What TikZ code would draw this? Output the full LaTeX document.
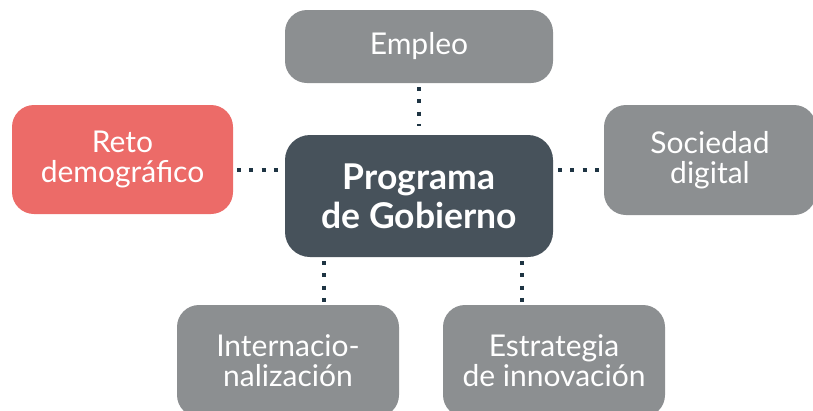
\documentclass[tikz,border=0pt]{standalone}
\usepackage{fontspec}
\setmainfont{Lato}
\definecolor{boxgray}{HTML}{8C8F91}
\definecolor{boxred}{HTML}{EC6B68}
\definecolor{boxdark}{HTML}{47525B}
\definecolor{dotcol}{HTML}{1E3443}
\begin{document}
\begin{tikzpicture}[x=1pt,y=-1pt,
  box/.style={rounded corners=22pt, fill=boxgray, text=white, align=center,
    inner sep=0pt, font=\fontsize{30}{30}\selectfont},
  dotline/.style={draw=dotcol, line width=4pt, dash pattern=on 4pt off 8.2pt}]
\useasboundingbox (0,0) rectangle (813,410);
\clip (0,0) rectangle (813,410);
\node[box, minimum width=268pt, minimum height=73pt] (emp) at (419,46.5) {Empleo};
\node[box, fill=boxred, minimum width=221pt, minimum height=109pt] (reto) at (122.5,159.5) {Reto\\demográfico};
\node[box, fill=boxdark, rounded corners=25pt, minimum width=268pt, minimum height=122pt,
  font=\bfseries\fontsize{35.5}{39}\selectfont] (prog) at (419,196) {Programa\\de Gobierno};
\node[box, minimum width=212pt, minimum height=110pt] (soc) at (710,160) {Sociedad\\digital};
\node[box, minimum width=222pt, minimum height=112pt] (intl) at (288,361) {Internacio-\\nalización};
\node[box, minimum width=222pt, minimum height=112pt] (estr) at (554,361) {Estrategia\\de innovación};
\coordinate (hy) at (0,169.5);
\coordinate (bl) at (324,0);
\coordinate (br) at (522,0);
\draw[dotline, shorten <=4pt, shorten >=9pt] (emp.south) -- (prog.north);
\draw[dotline, shorten <=4pt, shorten >=6pt] (reto.east |- hy) -- (prog.west |- hy);
\draw[dotline, shorten <=5pt, shorten >=5pt] (prog.east |- hy) -- (soc.west |- hy);
\draw[dotline, shorten <=4pt, shorten >=2pt] (prog.south -| bl) -- (intl.north -| bl);
\draw[dotline, shorten <=4pt, shorten >=2pt] (prog.south -| br) -- (estr.north -| br);
\end{tikzpicture}
\end{document}
